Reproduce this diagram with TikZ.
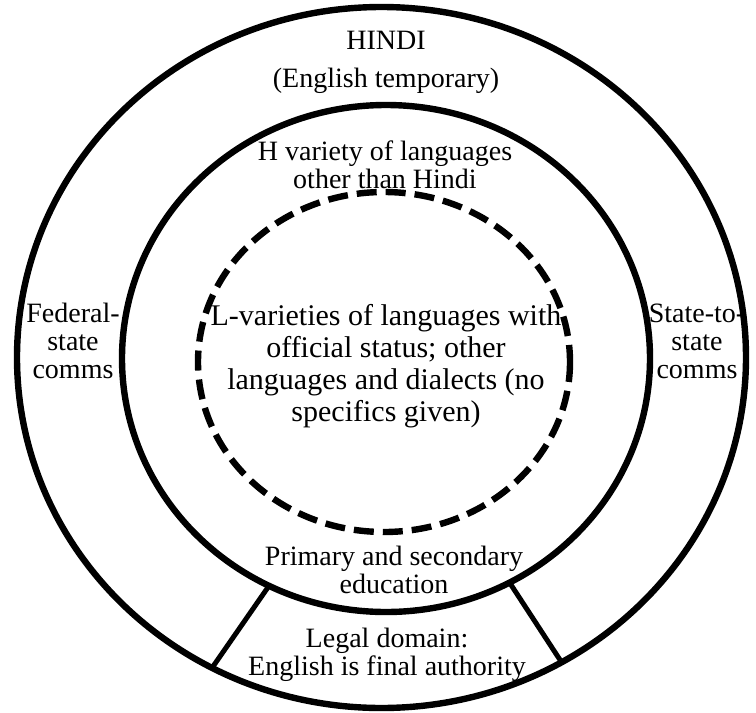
\documentclass[tikz,border=0pt]{standalone}
\usepackage{fontspec}
\setmainfont{Liberation Serif}
\usetikzlibrary{calc}
\begin{document}
\begin{tikzpicture}[x=0.5pt,y=-0.5pt,
  ring/.style={line width=3.2pt},
  dashring/.style={line width=3.2pt,dash pattern=on 10pt off 4.5pt},
  spoke/.style={line width=2.5pt},
  lbl/.style={align=center,font=\fontsize{14}{14}\selectfont,inner sep=0pt},
  biglbl/.style={align=center,font=\fontsize{15}{16}\selectfont,inner sep=0pt}]
  % margini
  \useasboundingbox (0,0) rectangle (756,713);
  % centrele cercurilor
  \coordinate (co) at (381.5,357.5);
  \coordinate (cm) at (386,358.5);
  \coordinate (cd) at (384,362);

  % cercuri pline
  \draw[ring] (co) ellipse (364.5 and 350.5);
  \draw[ring] (cm) ellipse (264 and 253.5);
  % cerc întrerupt
  \draw[dashring] (cd) ellipse (186 and 170);

  % capetele liniilor de jos
  \coordinate (ml) at ($(cm)+(116.3:264 and 253.5)$);
  \coordinate (mr) at ($(cm)+(62.1:264 and 253.5)$);
  \coordinate (ol) at ($(co)+(117.7:364.5 and 350.5)$);
  \coordinate (or) at ($(co)+(60.4:364.5 and 350.5)$);
  \draw[spoke] (ml) -- (ol) (mr) -- (or);

  % texte
  \node[lbl] (hindi) at (386,62) {HINDI\\[5pt](English temporary)};
  \node[lbl] (hvar) at (385,165) {H variety of languages\\other than Hindi};
  \node[biglbl] (lvar) at (386,366) {L-varieties of languages with\\official status; other\\languages and dialects (no\\specifics given)};
  \node[lbl] (fed) at (73,341) {Federal-\\state\\comms};
  \node[lbl] (sts) at (697,341) {State-to-\\state\\comms};
  \node[lbl] (prim) at (394,570) {Primary and secondary\\education};
  \node[lbl] (legal) at (387,655) {Legal domain:\\English is final authority};
\end{tikzpicture}
\end{document}
